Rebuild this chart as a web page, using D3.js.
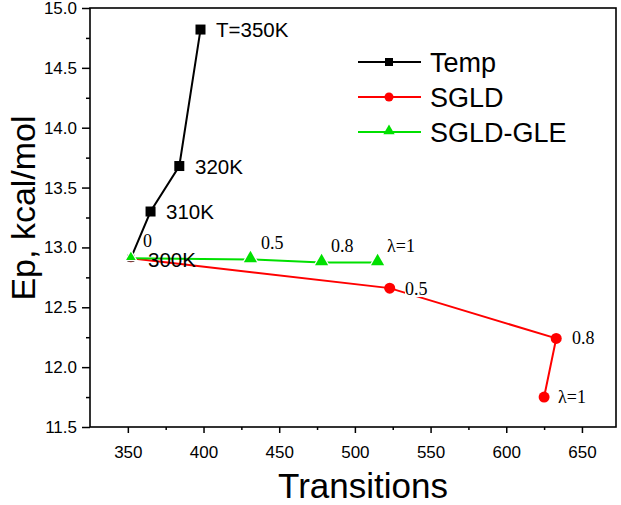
<!DOCTYPE html>
<html><head><meta charset="utf-8">
<script src="https://cdn.jsdelivr.net/npm/d3@7/dist/d3.min.js"></script>
<style>body{margin:0;background:#fff}svg{display:block}</style>
</head><body>
<svg id="c" width="621" height="505"></svg>
<script>
// Data
const tempX = [352, 365, 384, 398];
const tempY = [12.91, 13.30, 13.68, 14.82];
const tempLabels = ["300K", "310K", "320K", "T=350K"];
const sgldX = [352, 523, 633, 625];
const sgldY = [12.91, 12.66, 12.24, 11.75];
const sgldLabels = ["", "0.5", "0.8", "λ=1"];
const gleX = [352, 431, 478, 515];
const gleY = [12.91, 12.90, 12.875, 12.875];
const gleLabels = ["0", "0.5", "0.8", "λ=1"];
const xTicks = [350, 400, 450, 500, 550, 600, 650];
const yTicks = [11.5, 12.0, 12.5, 13.0, 13.5, 14.0, 14.5, 15.0];
const seriesNames = ["Temp", "SGLD", "SGLD-GLE"];

const svg = d3.select("#c");
const L = 90, R = 616, T = 8, B = 427;
const x = d3.scaleLinear().domain([325, 672.5]).range([L, R]);
const y = d3.scaleLinear().domain([11.5, 15]).range([B, T]);
const sans = "Arial, 'Liberation Sans', sans-serif";
const serif = "'Times New Roman', 'Liberation Serif', serif";

// Axes
const xMinor = d3.range(375, 672, 50);
const yMinor = d3.range(11.75, 15, 0.5);
const gx = svg.append("g").attr("transform", `translate(0,${B})`);
gx.call(d3.axisBottom(x).tickValues(xMinor).tickSize(3).tickFormat(""));
gx.call(g => g.selectAll("path").remove());
const gx2 = svg.append("g").attr("transform", `translate(0,${B})`);
gx2.call(d3.axisBottom(x).tickValues(xTicks).tickSize(6).tickPadding(13).tickFormat(d3.format("d")));
gx2.select("path").remove();
gx2.selectAll("text").attr("font-family", sans).attr("font-size", 17).attr("fill", "#000");

const gy = svg.append("g").attr("transform", `translate(${L},0)`);
gy.call(d3.axisLeft(y).tickValues(yMinor).tickSize(4).tickFormat(""));
gy.select("path").remove();
const gy2 = svg.append("g").attr("transform", `translate(${L},0)`);
gy2.call(d3.axisLeft(y).tickValues(yTicks).tickSize(8).tickPadding(5).tickFormat(d3.format(".1f")));
gy2.select("path").remove();
gy2.selectAll("text").attr("font-family", sans).attr("font-size", 17).attr("fill", "#000");
svg.selectAll(".tick line").attr("stroke", "#000").attr("stroke-width", 1.5);

svg.append("rect").attr("x", L).attr("y", T).attr("width", R - L).attr("height", B - T)
  .attr("fill", "none").attr("stroke", "#000").attr("stroke-width", 1.6);

// Titles
svg.append("text").attr("x", (L + R) / 2 + 10).attr("y", 498).attr("text-anchor", "middle")
  .attr("font-family", sans).attr("font-size", 35).text("Transitions");
svg.append("text").attr("transform", "translate(35,208) rotate(-90)").attr("text-anchor", "middle")
  .attr("font-family", sans).attr("font-size", 34).text("Ep, kcal/mol");

const line = d3.line();
function pts(xs, ys) { return xs.map((v, i) => [x(v), y(ys[i])]); }

// Lines
svg.append("path").attr("d", line(pts(sgldX, sgldY))).attr("fill", "none").attr("stroke", "#ff0000").attr("stroke-width", 2);
svg.append("path").attr("d", line(pts(gleX, gleY))).attr("fill", "none").attr("stroke", "#00e000").attr("stroke-width", 2);
svg.append("path").attr("d", line(pts(tempX, tempY))).attr("fill", "none").attr("stroke", "#000").attr("stroke-width", 2);

// Labels with white knock-out background
function label(txt, px, py, font, size) {
  const g = svg.append("g");
  const t = g.append("text").attr("x", px).attr("y", py).attr("font-family", font).attr("font-size", size).text(txt);
  const bb = t.node().getBBox();
  g.insert("rect", "text").attr("x", bb.x).attr("y", bb.y + 2).attr("width", bb.width).attr("height", bb.height - 4).attr("fill", "#fff");
}
const sgldLabelPos = [null, [405, 295], [572, 344], [558, 403]];
const gleLabelPos = [[143, 247], [261, 249], [331, 252], [387, 252]];
sgldLabels.forEach((t, i) => { if (t) label(t, sgldLabelPos[i][0], sgldLabelPos[i][1], serif, 18); });
gleLabels.forEach((t, i) => label(t, gleLabelPos[i][0], gleLabelPos[i][1], serif, 18));

// Markers
const sgP = pts(sgldX, sgldY);
svg.selectAll(".sg").data(sgP).join("circle").attr("cx", d => d[0]).attr("cy", d => d[1])
  .attr("r", (d, i) => i === 0 ? 4 : 5.5).attr("fill", "#ff0000");
const tP = pts(tempX, tempY);
svg.selectAll(".tp").data(tP).join("rect").attr("x", (d, i) => d[0] - (i === 0 ? 3.5 : 5)).attr("y", (d, i) => d[1] - (i === 0 ? 3.5 : 5))
  .attr("width", (d, i) => i === 0 ? 7 : 10).attr("height", (d, i) => i === 0 ? 7 : 10).attr("fill", "#000");
const tri = d3.symbol().type(d3.symbolTriangle);
const gP = pts(gleX, gleY);
svg.selectAll(".gl").data(gP).join("path").attr("transform", d => `translate(${d[0]},${d[1] - 1})`)
  .attr("d", (d, i) => tri.size(i === 0 ? 40 : 75)()).attr("fill", "#00e000")
  .attr("stroke", "#fff").attr("stroke-width", 2.5).attr("paint-order", "stroke");

// Temp labels
const tempLabelPos = [[148, 267], [166, 219], [195, 174], [216, 37]];
tempLabels.forEach((t, i) => svg.append("text").attr("x", tempLabelPos[i][0]).attr("y", tempLabelPos[i][1])
  .attr("font-family", sans).attr("font-size", 20.5).text(t));

// Legend
const legColors = ["#000", "#ff0000", "#00e000"];
const legY = [62, 97, 132];
seriesNames.forEach((n, i) => {
  svg.append("line").attr("x1", 358).attr("x2", 421).attr("y1", legY[i]).attr("y2", legY[i])
    .attr("stroke", legColors[i]).attr("stroke-width", 2);
  if (i === 0) svg.append("rect").attr("x", 385).attr("y", legY[i] - 4).attr("width", 8).attr("height", 8).attr("fill", "#000");
  if (i === 1) svg.append("circle").attr("cx", 389).attr("cy", legY[i]).attr("r", 4.5).attr("fill", "#ff0000");
  if (i === 2) svg.append("path").attr("transform", `translate(389,${legY[i] - 1})`).attr("d", tri.size(55)()).attr("fill", "#00e000");
  svg.append("text").attr("x", 430).attr("y", legY[i] + 9.5).attr("font-family", sans).attr("font-size", 27).text(n);
});
</script>
</body></html>
